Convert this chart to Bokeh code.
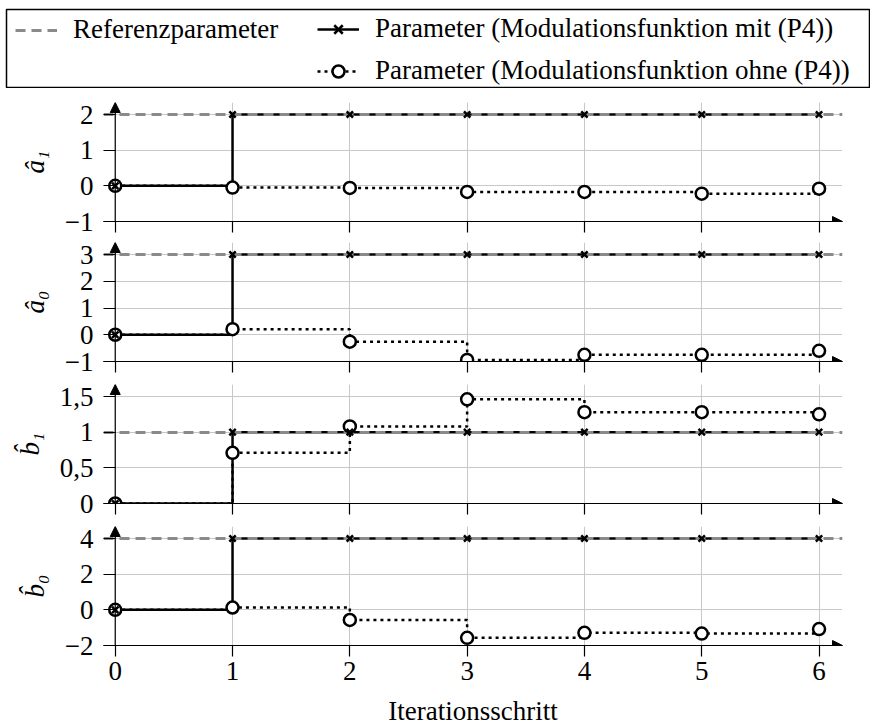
from bokeh.plotting import figure
from bokeh.layouts import column
from bokeh.models import (Range1d, FixedTicker, Arrow, NormalHead, Legend, LegendItem,
                          CustomLabelingPolicy, Spacer)
from bokeh.embed import file_html
from bokeh.resources import INLINE

# ---------------- data ----------------
iterations = [0, 1, 2, 3, 4, 5, 6]
x_tick_text = ["0", "1", "2", "3", "4", "5", "6"]
x_label = "Iterationsschritt"

param_labels = ["â₁", "â₀", "b̂₁", "b̂₀"]
reference = [2, 3, 1, 4]

with_p4_a1 = [0, 2, 2, 2, 2, 2, 2]
with_p4_a0 = [0, 3, 3, 3, 3, 3, 3]
with_p4_b1 = [0, 1, 1, 1, 1, 1, 1]
with_p4_b0 = [0, 4, 4, 4, 4, 4, 4]

without_p4_a1 = [0, -0.05, -0.06, -0.17, -0.17, -0.22, -0.08]
without_p4_a0 = [0, 0.21, -0.26, -0.94, -0.75, -0.75, -0.60]
without_p4_b1 = [0, 0.71, 1.08, 1.46, 1.28, 1.28, 1.25]
without_p4_b0 = [0, 0.13, -0.57, -1.57, -1.29, -1.33, -1.08]

y_ticks_a1 = [-1, 0, 1, 2]
y_ticks_a0 = [-1, 0, 1, 2, 3]
y_ticks_b1 = [0, 0.5, 1, 1.5]
y_ticks_b0 = [-2, 0, 2, 4]
y_tick_text_a1 = ["−1", "0", "1", "2"]
y_tick_text_a0 = ["−1", "0", "1", "2", "3"]
y_tick_text_b1 = ["0", "0,5", "1", "1,5"]
y_tick_text_b0 = ["−2", "0", "2", "4"]

legend_labels = [
    "Referenzparameter",
    "Parameter (Modulationsfunktion mit (P4))",
    "Parameter (Modulationsfunktion ohne (P4))",
]

x_limits = [-0.1, 6.2]

# ---------------- style ----------------
FONT = "Liberation Serif"
FS = "27px"
FL, FW, FR = 103, 739, 22
FH = 119
EXT = 12 / 107.0
GRID = "#c8c8c8"
REF_COLOR = "#8a8a8a"
DOT = "3 4"

panels = [
    (param_labels[0], reference[0], with_p4_a1, without_p4_a1, y_ticks_a1, y_tick_text_a1),
    (param_labels[1], reference[1], with_p4_a0, without_p4_a0, y_ticks_a0, y_tick_text_a0),
    (param_labels[2], reference[2], with_p4_b1, without_p4_b1, y_ticks_b1, y_tick_text_b1),
    (param_labels[3], reference[3], with_p4_b0, without_p4_b0, y_ticks_b0, y_tick_text_b0),
]
tops = [14, 6, 8, 8]
bottoms = [15, 15, 15, 80]

no_labels = CustomLabelingPolicy(code="""
const out = new indices.constructor(indices.size, 0)
return out
""")


def make_panel(idx):
    label, ref, withp, withoutp, yt, ytt = panels[idx]
    ymin, ymax = min(yt), max(yt)
    yend = ymax + (ymax - ymin) * EXT
    last = idx == len(panels) - 1
    p = figure(frame_width=FW, frame_height=FH,
               min_border_left=FL, min_border_right=FR,
               min_border_top=tops[idx], min_border_bottom=bottoms[idx],
               x_range=Range1d(*x_limits), y_range=Range1d(ymin, yend),
               output_backend="svg", toolbar_location=None,
               outline_line_color=None)
    p.xgrid.ticker = FixedTicker(ticks=iterations)
    p.ygrid.ticker = FixedTicker(ticks=yt)
    p.grid.grid_line_color = GRID
    p.grid.grid_line_width = 1

    ya = p.yaxis[0]
    ya.ticker = FixedTicker(ticks=yt)
    ya.major_label_overrides = {t: s for t, s in zip(yt, ytt)}
    ya.axis_line_color = None
    ya.major_tick_in = 12
    ya.major_tick_out = 0
    ya.major_tick_line_color = "black"
    ya.major_tick_line_width = 1.2
    ya.minor_tick_line_color = None
    ya.major_label_standoff = 10
    ya.major_label_text_font = FONT
    ya.major_label_text_font_size = FS
    ya.major_label_text_color = "black"
    ya.axis_label = label
    ya.axis_label_text_font = FONT
    ya.axis_label_text_font_size = FS
    ya.axis_label_text_font_style = "italic"
    ya.axis_label_text_color = "black"
    ya.axis_label_standoff = 12

    xa = p.xaxis[0]
    xa.ticker = FixedTicker(ticks=iterations)
    xa.major_label_overrides = {t: s for t, s in zip(iterations, x_tick_text)}
    xa.axis_line_color = "black"
    xa.axis_line_width = 1.2
    xa.major_tick_in = 0
    xa.major_tick_out = 11
    xa.major_tick_line_color = "black"
    xa.major_tick_line_width = 1.2
    xa.minor_tick_line_color = None
    xa.major_label_text_font = FONT
    xa.major_label_text_color = "black"
    if last:
        xa.major_label_text_font_size = FS
        xa.major_label_standoff = 5
        xa.axis_label = x_label
        xa.axis_label_text_font = FONT
        xa.axis_label_text_font_size = FS
        xa.axis_label_text_font_style = "normal"
        xa.axis_label_text_color = "black"
        xa.axis_label_standoff = 13
    else:
        xa.major_label_text_font_size = "0px"
        xa.major_label_standoff = 0
        xa.major_label_policy = no_labels

    p.step(iterations, withoutp, mode="after", line_color="black",
           line_width=2.5, line_dash=DOT)
    p.step(iterations, withp, mode="after", line_color="black", line_width=2.5)
    p.hspan(y=[ref], line_color=REF_COLOR, line_width=3, line_dash="10 6")
    p.scatter(iterations, withoutp, marker="circle", size=12,
              line_color="black", line_width=2.5, fill_color="white")
    p.scatter(iterations, withp, marker="x", size=9,
              line_color="black", line_width=2.5)

    p.add_layout(Arrow(end=NormalHead(size=10, fill_color="black", line_color="black"),
                       x_start=0, y_start=ymin, x_end=0, y_end=yend,
                       line_color="black", line_width=1.2))
    p.add_layout(Arrow(end=NormalHead(size=10, fill_color="black", line_color="black"),
                       x_start=x_limits[0], y_start=ymin, x_end=x_limits[1], y_end=ymin,
                       line_color="black", line_width=1.2))
    return p


# ---------------- legend figure ----------------
lf = figure(width=870, height=80, x_range=Range1d(-1, 0), y_range=Range1d(-1, 0),
            x_axis_type=None, y_axis_type=None, output_backend="svg",
            toolbar_location=None, min_border_left=6, min_border_right=1,
            min_border_top=1, min_border_bottom=1,
            outline_line_color="black", outline_line_width=1.5)
lf.frame_align = False
# legend-only renderers: their data lie outside the legend figure's ranges
r_ref = lf.line(x=reference, y=reference, line_color=REF_COLOR, line_width=3, line_dash="10 6")
r_mit_l = lf.line(x=reference, y=reference, line_color="black", line_width=2.5)
r_mit_m = lf.scatter(x=reference, y=reference, marker="x", size=9, line_color="black", line_width=2.5)
r_ohne_l = lf.line(x=reference, y=reference, line_color="black", line_width=2.5, line_dash=DOT)
r_ohne_m = lf.scatter(x=reference, y=reference, marker="circle", size=12, line_color="black",
                      line_width=2.5, fill_color="white")

common = dict(orientation="vertical", border_line_color=None, background_fill_alpha=0,
              padding=0, margin=0, spacing=11, glyph_width=42, glyph_height=30,
              label_height=30, label_standoff=16, label_text_font=FONT,
              label_text_font_size=FS, label_text_color="black")
legA = Legend(items=[LegendItem(label=legend_labels[0], renderers=[r_ref])],
              location=(9, 42), **common)
legB = Legend(items=[LegendItem(label=legend_labels[1], renderers=[r_mit_l, r_mit_m]),
                     LegendItem(label=legend_labels[2], renderers=[r_ohne_l, r_ohne_m])],
              location=(311, 1), **common)
lf.add_layout(legA)
lf.add_layout(legB)

figs = [Spacer(width=10, height=8), lf] + [make_panel(i) for i in range(len(panels))]
layout = column(*figs, spacing=0)

open("out.html", "w").write(file_html(layout, INLINE))
